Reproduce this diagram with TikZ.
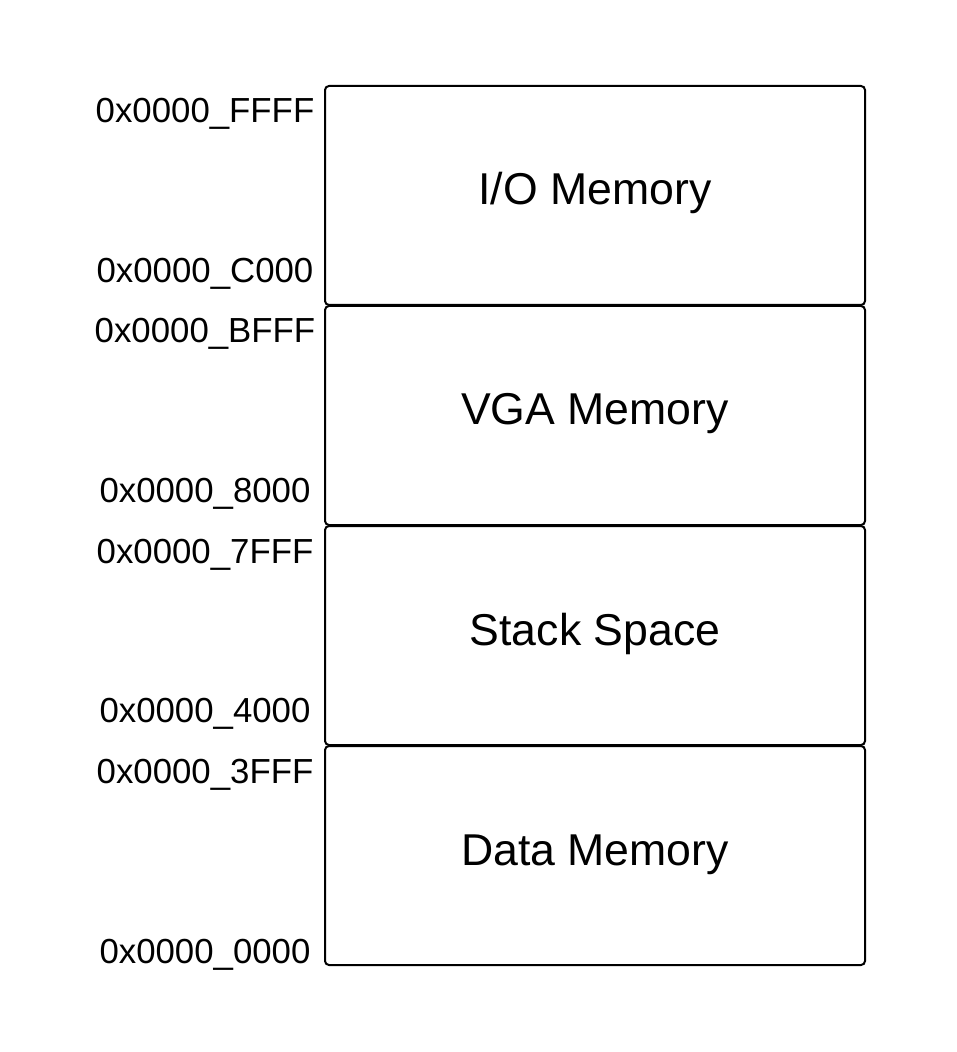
\documentclass[tikz,border=0pt]{standalone}
\usepackage{fontspec}
\setmainfont{Liberation Sans}
\usetikzlibrary{positioning}

\begin{document}
\begin{tikzpicture}[
    x=0.5pt, y=-0.5pt,
    region/.style={draw=black, line width=1pt, rounded corners=2pt, minimum width=270pt, minimum height=109.5pt, align=center, text height=9.5pt, text depth=0pt, font=\fontsize{22.3}{26}\selectfont},
    addr/.style={font=\fontsize{17.4}{20}\selectfont, inner sep=0pt, anchor=base}
]
\useasboundingbox (0,0) rectangle (956,1052);

% Memory regions
\node[region] (io) at (595,195.5) {I/O Memory};
\node[region, below=-0.5pt of io] (vga) {VGA Memory};
\node[region, below=-0.5pt of vga] (stack) {Stack Space};
\node[region, below=-0.5pt of stack] (data) {Data Memory};

% Address labels
\node[addr] (ioTop) at ([xshift=-59.5pt, yshift=-19pt]io.north west) {0x0000\_FFFF};
\node[addr] (ioBot) at ([xshift=-59.5pt, yshift=11.75pt]io.south west) {0x0000\_C000};
\node[addr] (vgaTop) at ([xshift=-59.5pt, yshift=-19pt]vga.north west) {0x0000\_BFFF};
\node[addr] (vgaBot) at ([xshift=-59.5pt, yshift=11.75pt]vga.south west) {0x0000\_8000};
\node[addr] (stackTop) at ([xshift=-59.5pt, yshift=-19pt]stack.north west) {0x0000\_7FFF};
\node[addr] (stackBot) at ([xshift=-59.5pt, yshift=11.75pt]stack.south west) {0x0000\_4000};
\node[addr] (dataTop) at ([xshift=-59.5pt, yshift=-19pt]data.north west) {0x0000\_3FFF};
\node[addr] (dataBot) at ([xshift=-59.5pt, yshift=1.5pt]data.south west) {0x0000\_0000};

\end{tikzpicture}
\end{document}
